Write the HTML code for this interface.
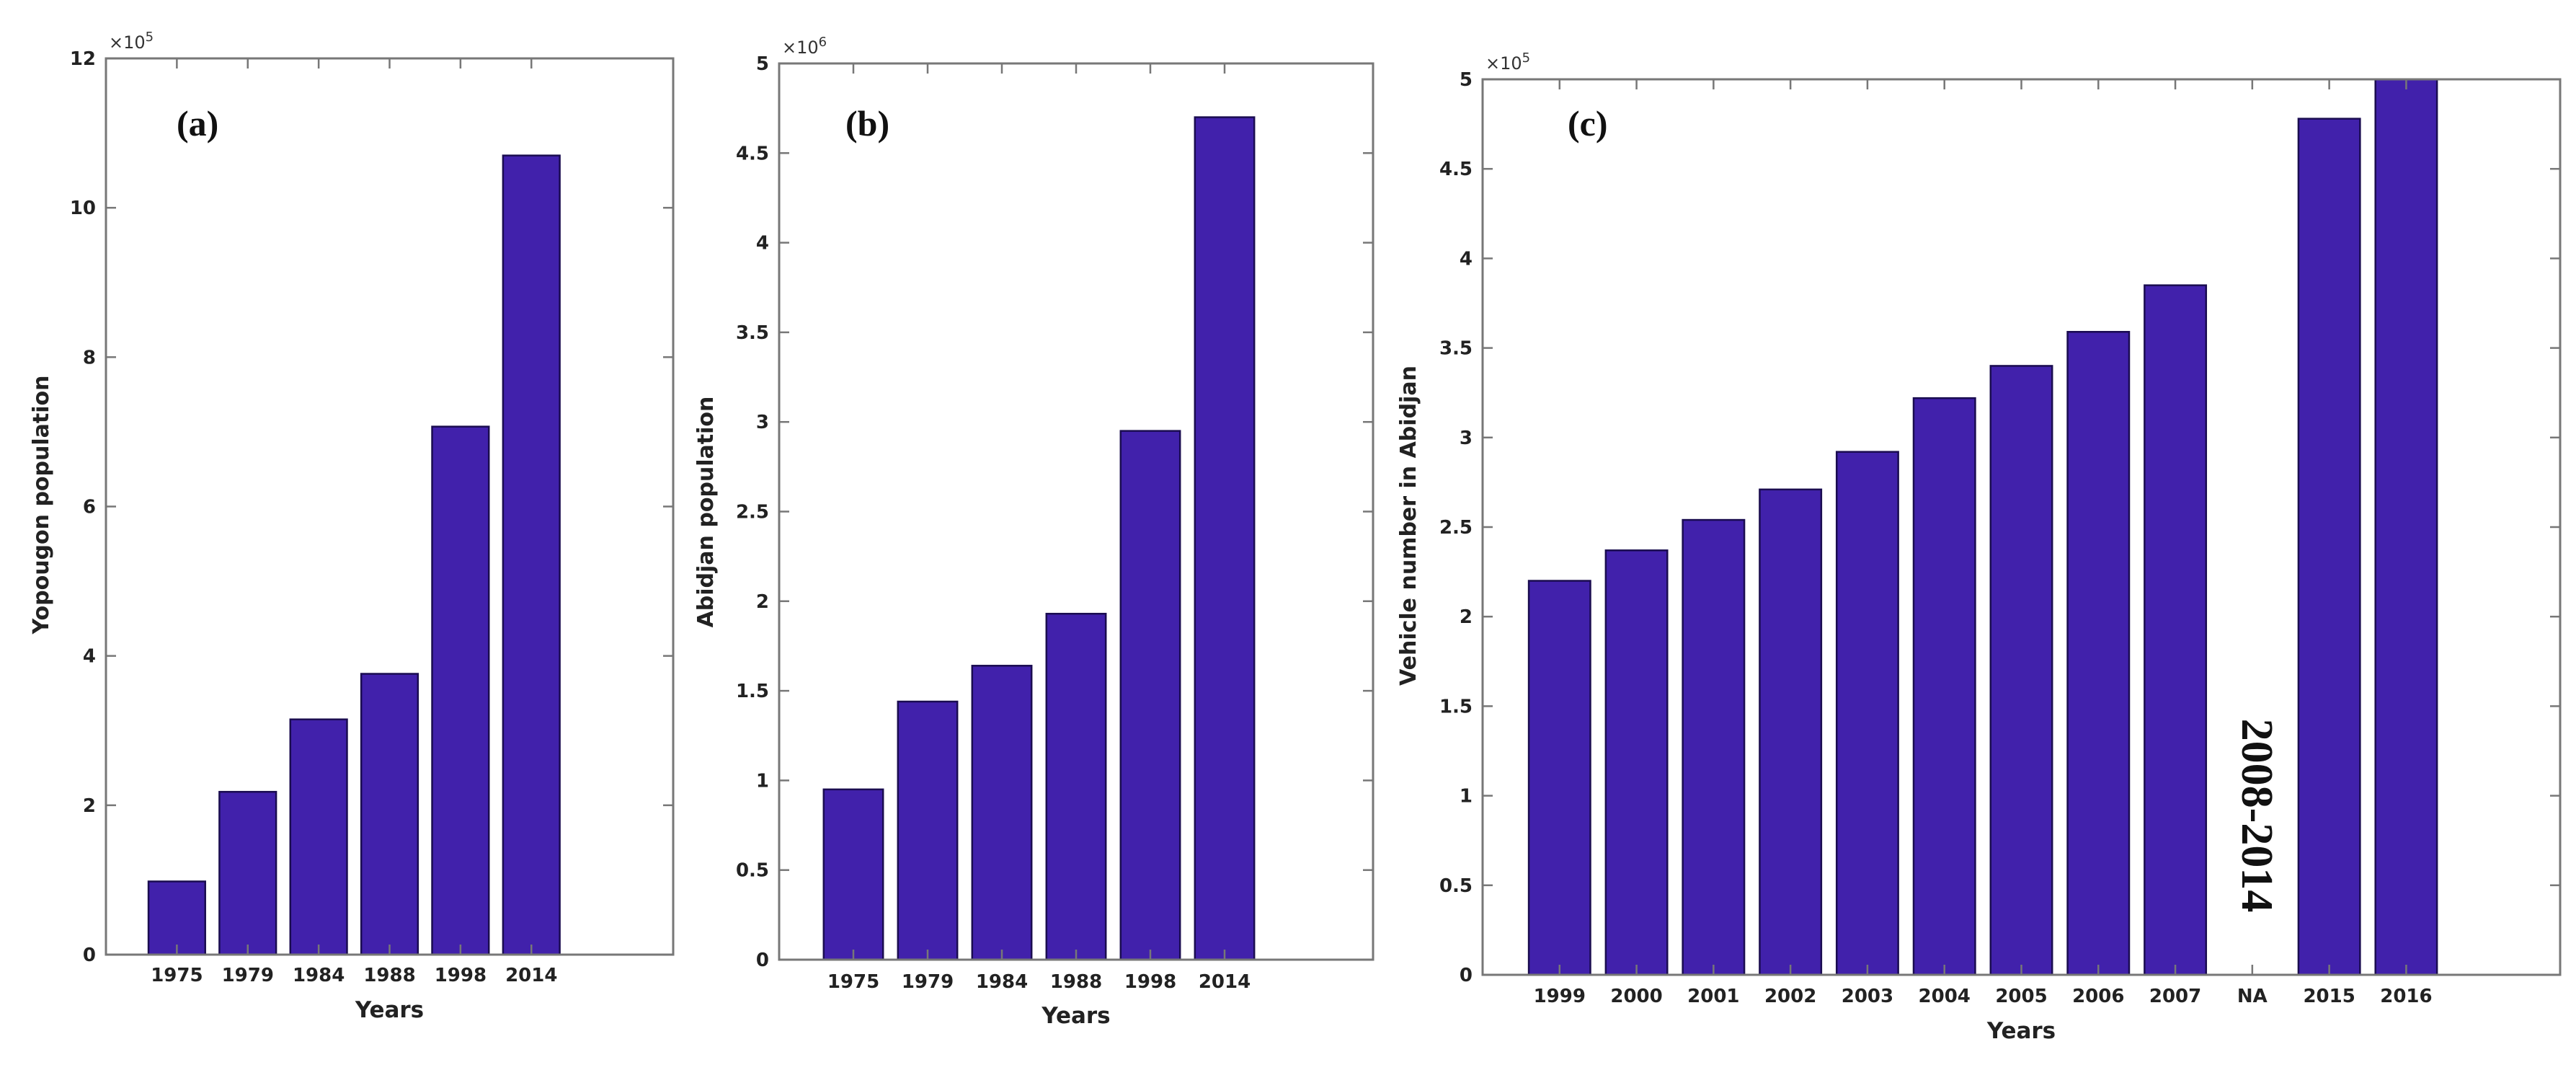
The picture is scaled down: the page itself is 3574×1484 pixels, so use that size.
<!DOCTYPE html>
<html><head><meta charset="utf-8"><style>
html,body{margin:0;padding:0;background:#fff;}
svg{display:block;}
text{font-family:"DejaVu Sans","Liberation Sans",sans-serif;}
text.serif{font-family:"Liberation Serif",serif;}
</style></head><body>
<svg id="fig" width="3574" height="1484" viewBox="0 0 3574 1484" xmlns="http://www.w3.org/2000/svg"></svg>
<script>
const catsA = ["1975","1979","1984","1988","1998","2014"];
const valsA = [0.98,2.18,3.15,3.76,7.07,10.7];
const ticksA = [0,2,4,6,8,10,12];
const catsB = ["1975","1979","1984","1988","1998","2014"];
const valsB = [0.95,1.44,1.64,1.93,2.95,4.70];
const ticksB = [0,0.5,1,1.5,2,2.5,3,3.5,4,4.5,5];
const catsC = ["1999","2000","2001","2002","2003","2004","2005","2006","2007","NA","2015","2016"];
const valsC = [2.20,2.37,2.54,2.71,2.92,3.22,3.40,3.59,3.85,null,4.78,5.00];
const ticksC = [0,0.5,1,1.5,2,2.5,3,3.5,4,4.5,5];

const NS="http://www.w3.org/2000/svg";
const svg=document.getElementById('fig');
function mk(tag,attrs,parent){const e=document.createElementNS(NS,tag);for(const k in attrs)e.setAttribute(k,attrs[k]);(parent||svg).appendChild(e);return e;}

function panel(id,box,cats,vals,ticks,xmax,ylabel,exp,tag,tickY,yearsY,ylabX,ylabY,tagX){
  const g=mk('g',{});
  
  
  const ymax=ticks[ticks.length-1];
  const xs=v=>box.l+(v)/xmax*(box.r-box.l);
  const ys=v=>box.b-v/ymax*(box.b-box.t);
  const step=(box.r-box.l)/xmax;
  cats.forEach((c,i)=>{
    if(vals[i]==null) return;
    const cx=xs(i+1),w=step*0.8;
    const r=mk('rect',{x:cx-w/2,y:ys(vals[i]),width:w,height:box.b-ys(vals[i]),fill:'#4121ab',stroke:'#1a0c50','stroke-width':2.5},g);
    
    
  });
  const ax=mk('rect',{x:box.l,y:box.t,width:box.r-box.l,height:box.b-box.t,fill:'none',stroke:'#777','stroke-width':3},g);
  
  
  ticks.forEach(t=>{
    const y=ys(t);
    mk('line',{x1:box.l,x2:box.l+14,y1:y,y2:y,stroke:'#777','stroke-width':2.5},g);
    mk('line',{x1:box.r,x2:box.r-14,y1:y,y2:y,stroke:'#777','stroke-width':2.5},g);
    const tx=mk('text',{x:box.l-14,y:y+9,'text-anchor':'end','font-size':26,'font-weight':'bold',fill:'#222'},g);
    tx.textContent=String(t);
    
    
  });
  cats.forEach((c,i)=>{
    const x=xs(i+1);
    mk('line',{x1:x,x2:x,y1:box.b,y2:box.b-14,stroke:'#777','stroke-width':2.5},g);
    mk('line',{x1:x,x2:x,y1:box.t,y2:box.t+14,stroke:'#777','stroke-width':2.5},g);
    const tx=mk('text',{x:x,y:tickY+9,'text-anchor':'middle','font-size':26,'font-weight':'bold',fill:'#222'},g);
    tx.textContent=c;
    
    
  });
  const xt=mk('text',{x:(box.l+box.r)/2,y:yearsY+11,'text-anchor':'middle','font-size':31,'font-weight':'bold',fill:'#222'},g);
  xt.textContent='Years';
  
  
  const yt=mk('text',{x:ylabX,y:ylabY,'text-anchor':'middle','font-size':30,'font-weight':'bold',fill:'#222',transform:`rotate(-90 ${ylabX} ${ylabY})`,dy:10},g);
  yt.textContent=ylabel;
  
  
  const ex=mk('text',{x:box.l+4,y:box.t-14,'font-size':24,fill:'#333'},g);
  ex.innerHTML='×10<tspan dy="-10" font-size="18">'+exp+'</tspan>';
  
  
  const tg=mk('text',{x:tagX,y:188,'font-size':50,'font-weight':'bold',fill:'#111','class':'serif'},g);
  tg.textContent=tag;
  
  
  return {xs,ys,g};
}
panel('a',{l:147,r:934,t:81,b:1324},catsA,valsA,ticksA,8,'Yopougon population','5','(a)',1352,1400,57,700,245);
panel('b',{l:1081,r:1905,t:88,b:1331},catsB,valsB,ticksB,8,'Abidjan population','6','(b)',1361,1408,979,710,1173);
const pc=panel('c',{l:2057,r:3552,t:110,b:1352},catsC,valsC,ticksC,14,'Vehicle number in Abidjan','5','(c)',1381,1429,1954,729,2175);
const na=mk('text',{x:3131,y:1131,'text-anchor':'middle','font-size':62,'font-weight':'bold',fill:'#111','class':'serif',transform:'rotate(90 3131 1131)',dy:20});
na.textContent='2008-2014';


</script>
</body></html>
